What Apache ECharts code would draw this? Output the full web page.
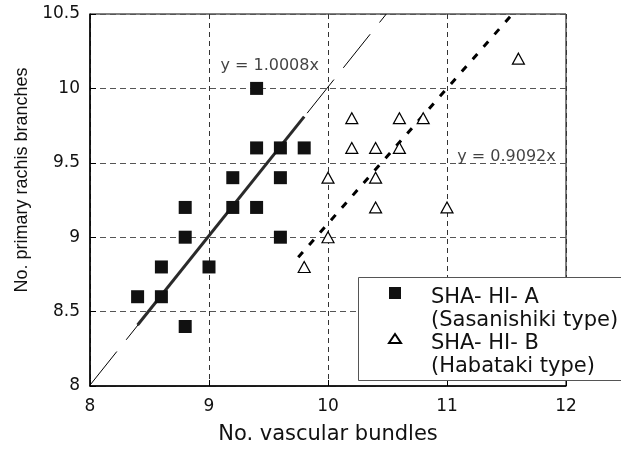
<!DOCTYPE html>
<html>
<head>
<meta charset="utf-8">
<script src="https://cdn.jsdelivr.net/npm/echarts@6/dist/echarts.min.js"></script>
<style>
html, body { margin: 0; padding: 0; background: #fff; }
#chart { width: 621px; height: 450px; }
</style>
</head>
<body>
<div id="chart"></div>
<script>
// axis ticks
const xTicks = [8, 9, 10, 11, 12]
const yTicks = [8, 8.5, 9, 9.5, 10, 10.5]

const seriesNames = ['SHA- HI- A', 'SHA- HI- B']
const seriesNotes = ['(Sasanishiki type)', '(Habataki type)']

// SHA-HI-A (Sasanishiki type)
const groupA = [
  [8.4, 8.6], [8.6, 8.6], [8.6, 8.8], [8.8, 8.4], [8.8, 9.0], [8.8, 9.2],
  [9.0, 8.8], [9.2, 9.2], [9.2, 9.4], [9.4, 9.2], [9.4, 9.6], [9.4, 10.0],
  [9.6, 9.0], [9.6, 9.4], [9.6, 9.6], [9.8, 9.6]
]
// SHA-HI-B (Habataki type)
const groupB = [
  [9.8, 8.8], [10.0, 9.0], [10.0, 9.4], [10.2, 9.6], [10.2, 9.8], [10.4, 9.2],
  [10.4, 9.4], [10.4, 9.6], [10.6, 9.6], [10.6, 9.8], [10.8, 9.8], [11.0, 9.2],
  [11.6, 10.2]
]

// trend lines (end points)
const trendA = [[8, 8.006], [10.49, 10.5]]
const trendAFit = [[8.4, 8.41], [9.8, 9.81]]
const trendB = [[9.75, 8.865], [11.55, 10.5]]
const trendLabels = ['y = 1.0008x', 'y = 0.9092x']

const font = 'DejaVu Sans'

const myChart = echarts.init(document.getElementById('chart'))

const option = {
  backgroundColor: '#fff',
  animation: false,
  grid: {
    left: 90, top: 14, right: 55, bottom: 62,
    show: true,
    borderColor: '#000',
    borderWidth: 1
  },
  xAxis: {
    type: 'value',
    min: xTicks[0],
    max: xTicks[xTicks.length - 1],
    interval: 1,
    name: 'No. vascular bundles',
    nameLocation: 'middle',
    nameGap: 38,
    nameTextStyle: { fontFamily: font, fontSize: 21, color: '#111' },
    axisLine: { lineStyle: { color: '#000', width: 1.5 } },
    axisTick: { inside: true, length: 6, lineStyle: { color: '#000' } },
    axisLabel: { fontFamily: font, fontSize: 17, color: '#111', margin: 12 },
    splitLine: { lineStyle: { color: '#333', type: [5, 4], width: 1 } }
  },
  yAxis: {
    type: 'value',
    min: yTicks[0],
    max: yTicks[yTicks.length - 1],
    interval: 0.5,
    name: 'No. primary rachis branches',
    nameLocation: 'middle',
    nameGap: 58,
    nameTextStyle: { fontFamily: 'Liberation Sans', fontSize: 18, color: '#111', padding: [0, 0, 0, 40] },
    axisLine: { lineStyle: { color: '#000', width: 1.5 } },
    axisTick: { inside: true, length: 6, lineStyle: { color: '#000' } },
    axisLabel: { fontFamily: font, fontSize: 17, color: '#111', margin: 10 },
    splitLine: { lineStyle: { color: '#555', type: [6, 4], width: 1 } }
  },
  legend: {
    data: [
      { name: seriesNames[0] },
      { name: seriesNames[1], icon: 'path://M6,0L12,9L0,9Z' }
    ],
    orient: 'vertical',
    left: 388,
    top: 265,
    padding: 0,
    itemWidth: 12,
    itemHeight: 12,
    itemGap: -21,
    z: 20,
    formatter: function (name) {
      return '{s| }\n{t|' + name + '}\n{t|' + seriesNotes[seriesNames.indexOf(name)] + '}'
    },
    textStyle: {
      fontFamily: font,
      fontSize: 21,
      color: '#111',
      padding: [0, 0, 0, 25],
      rich: {
        s: { lineHeight: 33, fontSize: 10 },
        t: { lineHeight: 23, fontSize: 21, fontFamily: font, color: '#111' }
      }
    }
  },
  graphic: [{
    type: 'rect',
    left: 358,
    top: 277,
    z: 10,
    shape: { width: 280, height: 103 },
    style: { fill: '#fff', stroke: '#555', lineWidth: 1 }
  }],
  series: [
    {
      type: 'line',
      data: trendA,
      symbol: 'none',
      silent: true,
      z: 2,
      lineStyle: { color: '#000', width: 1, type: [43, 15] }
    },
    {
      type: 'line',
      data: trendAFit,
      symbol: 'none',
      silent: true,
      z: 3,
      lineStyle: { color: '#2a2a2a', width: 3 }
    },
    {
      type: 'line',
      data: trendB,
      symbol: 'none',
      silent: true,
      z: 3,
      lineStyle: { color: '#000', width: 3, type: [7, 9.5] }
    },
    {
      name: seriesNames[0],
      type: 'scatter',
      data: groupA,
      symbol: 'rect',
      symbolSize: 13,
      z: 5,
      itemStyle: { color: '#111', opacity: 1 }
    },
    {
      name: seriesNames[1],
      type: 'scatter',
      data: groupB,
      symbol: 'triangle',
      symbolSize: [12, 11],
      z: 5,
      itemStyle: { color: '#fff', borderColor: '#000', borderWidth: 1.2, opacity: 1 }
    },
    {
      // regression equations
      type: 'scatter',
      data: [[9.51, 10.153], [11.5, 9.54]],
      symbolSize: 0,
      silent: true,
      z: 6,
      label: {
        show: true,
        position: 'inside',
        fontFamily: font,
        fontSize: 16,
        color: '#111',
        formatter: function (p) { return trendLabels[p.dataIndex] }
      }
    }
  ]
}

myChart.setOption(option)
</script>
</body>
</html>
